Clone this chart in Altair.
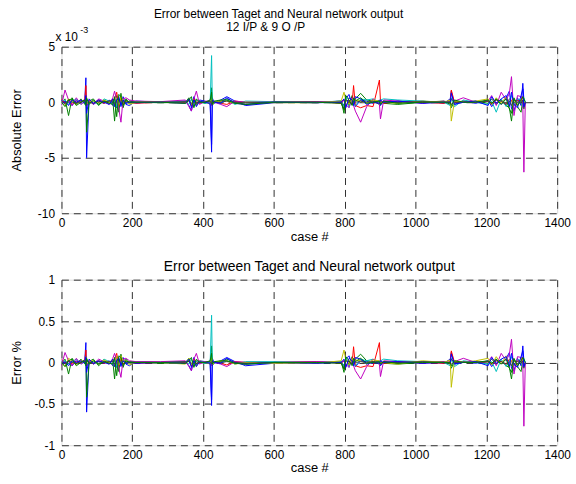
import altair as alt
import pandas as pd

FONT = "Liberation Sans"

# case numbers (x) shared by all series
CASES = [
    0, 10, 20, 30, 42, 55,
    66, 69, 71, 78,
    90, 105, 120, 135,
    145, 150, 156, 162, 168, 174,
    182, 192, 210, 280,
    350, 360, 367, 374, 381, 390,
    405, 420, 424, 426, 432,
    450, 467, 490, 520,
    600, 720, 790, 798,
    803, 812, 821, 825, 830,
    845, 862, 880, 898, 901,
    910, 950, 1020, 1080,
    1098, 1101, 1110, 1135,
    1170, 1205, 1215, 1228,
    1242, 1256, 1265, 1271, 1278,
    1288, 1298, 1303, 1306, 1310,
]

# ---- Absolute error (units of 1e-3) ----
ABS_1 = [0.2, -0.2, 0.1, -0.3, 0.2, -0.1,
         0.3, 2.2, -5.0, 0.2,
         -0.2, 0.1, -0.1, 0.2,
         -0.3, 0.4, -0.5, 0.3, -0.4, 0.5,
         -0.2, -0.3, 0.1, 0.0,
         0.1, -0.3, -0.8, 0.5, -0.3, 0.2,
         0.1, -0.2, -4.5, 0.4, -0.1,
         0.2, 0.5, 0.1, -0.3,
         -0.05, 0.0, 0.1, -0.3,
         0.3, 0.7, -0.2, 0.3, -0.4,
         0.2, 0.1, -0.1, 0.2, -0.3,
         0.1, 0.0, 0.1, -0.1,
         0.3, 1.0, -0.2, 0.1,
         -0.1, 0.2, -0.4, 0.3,
         -0.2, 0.4, 1.0, -0.6, -0.8,
         0.4, -0.3, 1.7, 0.2, 0.1]
ABS_2 = [-0.1, 0.3, -1.2, 0.4, -0.2, 0.3,
         -0.2, 0.5, -2.7, 0.1,
         0.3, -0.3, 0.2, -0.1,
         0.2, -1.7, 0.6, -0.9, 0.8, -0.5,
         0.3, -0.1, 0.0, -0.05,
         0.0, 0.4, -0.3, 0.2, -0.2, 0.1,
         -0.1, 0.1, 1.3, -0.3, 0.0,
         0.1, 0.3, 0.0, -0.2,
         0.0, -0.05, 0.1, -1.0,
         0.4, -0.3, 0.6, -0.2, 0.3,
         0.8, 0.2, 0.1, -0.2, 0.1,
         -0.1, -0.2, 0.0, 0.1,
         -0.2, -0.5, 0.1, 0.0,
         0.1, -0.1, 0.3, -0.2,
         0.2, -0.3, -0.5, -1.7, 0.3,
         -0.4, -0.9, 0.2, -0.3, 0.0]
ABS_3 = [0.3, -0.1, 0.2, -0.2, 0.1, 0.0,
         0.2, 1.5, -0.3, 0.1,
         -0.1, 0.2, -0.1, 0.1,
         0.2, 0.3, 0.9, -0.3, 0.4, -0.2,
         0.1, 0.0, -0.1, 0.0,
         0.0, 0.2, -0.3, 0.3, 0.1, -0.1,
         0.0, 0.1, 0.2, -0.2, 0.1,
         -0.1, -0.2, 0.1, 0.0,
         0.0, 0.05, -0.1, 0.2,
         -0.4, 0.2, -0.1, 1.5, -0.3,
         -0.5, -0.3, -0.4, 2.0, 0.1,
         -0.1, 0.1, 0.0, -0.1,
         0.1, 1.1, 0.0, 0.1,
         0.0, 0.1, -0.2, 0.2,
         0.1, -0.2, 0.3, 0.2, -0.3,
         0.2, 0.1, 0.5, -0.2, 0.0]
ABS_4 = [0.1, 0.2, -0.2, 0.1, 0.3, -0.2,
         0.1, -0.3, 0.3, -0.1,
         0.1, -0.2, 0.3, 0.1,
         -0.2, 0.2, -0.4, 0.1, -0.3, 0.2,
         -0.1, 0.1, 0.05, 0.0,
         0.1, -0.2, 0.3, -0.4, 0.2, 0.0,
         -0.1, 0.0, 4.2, 0.0, 0.1,
         -0.1, 0.2, -0.2, 0.1,
         0.05, 0.0, 0.1, -0.4,
         0.5, -0.5, 0.3, -0.2, -0.3,
         0.3, 0.2, 0.3, 0.0, 0.2,
         0.3, 0.2, 0.1, 0.0,
         -0.3, 0.4, -0.4, 0.2,
         0.0, -0.2, 0.1, -0.9,
         0.3, -0.4, 0.2, 0.6, -0.3,
         0.3, 0.1, -0.5, 0.4, 0.0]
ABS_5 = [-0.3, 1.1, 0.2, -0.3, 0.4, -0.2,
         0.1, 0.3, -0.4, 0.2,
         -0.2, 0.3, 0.1, -0.2,
         0.4, 1.0, 0.2, -0.6, -1.8, 0.3,
         0.4, 0.2, 0.1, 0.05,
         0.2, -0.4, -0.8, 0.3, 1.0, -0.2,
         0.1, 0.1, -0.3, 0.2, 0.0,
         -0.2, -0.4, 0.1, 0.0,
         0.0, 0.05, 0.0, 0.2,
         -0.2, -0.5, 0.4, -0.3, -0.8,
         -1.8, -0.4, 0.3, -0.2, -1.5,
         0.2, 0.1, -0.1, 0.1,
         0.0, -0.2, 0.1, 0.4,
         0.0, 0.1, 0.6, -0.3,
         0.9, 0.2, 0.8, 2.3, -1.2,
         0.6, 0.5, -0.2, -6.3, 0.0]
ABS_6 = [0.0, -0.3, 0.3, 0.1, -0.2, 0.2,
         0.0, 0.4, -0.2, 0.1,
         0.1, -0.1, 0.2, 0.0,
         0.2, -0.3, 0.4, -0.2, 0.5, 0.1,
         0.1, -0.2, 0.0, 0.0,
         -0.1, 0.3, -0.2, 0.1, -0.3, 0.1,
         0.0, -0.1, 0.3, -0.2, 0.0,
         0.1, 0.1, -0.1, 0.0,
         -0.05, -0.05, 0.1, 0.9,
         0.2, -0.2, 0.3, 0.1, 0.2,
         0.1, -0.1, 0.2, 0.1, 0.0,
         0.0, -0.1, 0.1, 0.0,
         0.2, -1.7, 0.1, 0.0,
         0.1, 0.3, -0.2, 0.4,
         -0.1, 0.5, -0.3, 0.1, 0.2,
         -0.2, 0.3, 0.1, -0.1, 0.0]
ABS_7 = [0.1, -0.1, 0.2, 0.0, -0.1, 0.1,
         0.1, -0.2, 0.2, 0.0,
         -0.1, 0.1, 0.0, 0.1,
         0.1, -0.2, 0.2, 0.3, -0.2, 0.1,
         0.0, 0.1, 0.0, 0.0,
         0.05, 0.1, -0.1, 0.2, -0.1, 0.0,
         0.0, 0.1, -0.2, 0.1, 0.0,
         0.0, 0.1, 0.0, -0.05,
         0.0, 0.0, 0.0, -0.6,
         0.2, 0.1, -0.2, 0.1, 0.0,
         0.1, 0.0, 0.1, 0.0, -0.1,
         0.0, 0.0, 0.05, 0.0,
         -0.1, 0.3, 0.0, 0.0,
         0.0, 0.1, -0.1, 0.2,
         0.1, -0.2, 0.1, -0.3, 0.2,
         0.1, -0.1, 0.2, -0.6, 0.0]
ABS_8 = [-0.2, 0.1, -0.3, 0.2, 0.0, 0.2,
         -0.1, 0.6, -1.0, 0.3,
         -0.1, 0.2, 0.0, -0.2,
         0.3, -0.4, 0.2, 0.5, -0.3, 0.2,
         -0.1, 0.0, -0.05, 0.0,
         -0.1, 0.3, -0.5, 0.2, -0.4, 0.1,
         0.0, -0.1, -3.8, 0.2, 0.0,
         -0.1, 0.4, -0.1, -0.2,
         0.0, -0.05, 0.0, 0.3,
         -0.5, 0.4, 0.2, -0.3, 0.5,
         0.3, -0.2, 0.0, -0.1, 0.2,
         0.0, 0.1, -0.1, 0.0,
         0.0, 0.8, -0.2, 0.0,
         0.1, -0.3, 0.5, -0.1,
         0.3, 0.6, -0.4, 0.9, -0.2,
         -0.5, 0.6, 1.2, -0.4, 0.0]
ABS_9 = [0.0, -0.4, 0.2, 0.3, -0.3, 0.0,
         0.2, -0.3, 0.4, -0.2,
         0.2, -0.2, 0.1, -0.1,
         -0.2, 0.5, -1.3, 0.7, 0.5, -0.3,
         0.2, 0.0, 0.0, 0.0,
         -0.1, 0.2, 0.5, -0.5, 0.3, 0.0,
         0.0, 0.2, 0.9, -0.2, 0.1,
         0.2, 0.2, -0.1, -0.2,
         0.0, 0.0, -0.1, -0.7,
         0.6, 0.2, -0.3, 0.4, 0.1,
         0.4, -0.1, 0.0, 0.1, -0.2,
         0.1, -0.1, 0.0, 0.0,
         0.0, -0.3, 0.2, 0.0,
         0.0, 0.2, -0.1, 0.3,
         -0.2, 0.3, -0.6, -1.0, 0.4,
         -0.3, 0.2, 0.5, 0.3, 0.0]

# ---- Error % ----
PCT_1 = [0.02, -0.02, 0.01, -0.04, 0.02, -0.01,
         0.04, 0.24, -0.6, 0.02,
         -0.02, 0.01, -0.01, 0.02,
         -0.04, 0.05, -0.06, 0.04, -0.05, 0.06,
         -0.02, -0.04, 0.01, 0.0,
         0.01, -0.04, -0.1, 0.06, -0.04, 0.02,
         0.01, -0.02, -0.52, 0.05, -0.01,
         0.02, 0.06, 0.01, -0.04,
         -0.01, 0.0, 0.01, -0.04,
         0.04, 0.08, -0.02, 0.04, -0.05,
         0.02, 0.01, -0.01, 0.02, -0.04,
         0.01, 0.0, 0.01, -0.01,
         0.04, 0.12, -0.02, 0.01,
         -0.01, 0.02, -0.05, 0.04,
         -0.02, 0.05, 0.12, -0.07, -0.1,
         0.05, -0.04, 0.2, 0.02, 0.01]
PCT_2 = [-0.01, 0.04, -0.14, 0.05, -0.02, 0.04,
         -0.02, 0.06, -0.42, 0.01,
         0.04, -0.04, 0.02, -0.01,
         0.02, -0.2, 0.07, -0.11, 0.1, -0.06,
         0.04, -0.01, 0.0, -0.01,
         0.0, 0.05, -0.04, 0.02, -0.02, 0.01,
         -0.01, 0.01, 0.2, -0.04, 0.0,
         0.01, 0.04, 0.0, -0.02,
         0.0, -0.01, 0.01, -0.12,
         0.05, -0.04, 0.07, -0.02, 0.04,
         0.1, 0.02, 0.01, -0.02, 0.01,
         -0.01, -0.02, 0.0, 0.01,
         -0.02, -0.07, 0.01, 0.0,
         0.01, -0.01, 0.04, -0.02,
         0.02, -0.04, -0.06, -0.2, 0.04,
         -0.05, -0.11, 0.02, -0.04, 0.0]
PCT_3 = [0.04, -0.01, 0.02, -0.02, 0.01, 0.0,
         0.02, 0.15, -0.04, 0.01,
         -0.01, 0.02, -0.01, 0.01,
         0.02, 0.04, 0.11, -0.04, 0.05, -0.02,
         0.01, 0.0, -0.01, 0.0,
         0.0, 0.02, -0.04, 0.04, 0.01, -0.01,
         0.0, 0.01, 0.02, -0.02, 0.01,
         -0.01, -0.03, 0.01, 0.0,
         0.0, 0.01, -0.01, 0.02,
         -0.05, 0.02, -0.01, 0.19, -0.04,
         -0.06, -0.04, -0.05, 0.24, 0.01,
         -0.01, 0.01, 0.0, -0.01,
         0.01, 0.14, 0.0, 0.01,
         0.0, 0.01, -0.02, 0.02,
         0.01, -0.02, 0.04, 0.02, -0.04,
         0.02, 0.01, 0.06, -0.02, 0.0]
PCT_4 = [0.01, 0.02, -0.02, 0.01, 0.04, -0.02,
         0.01, -0.04, 0.04, -0.01,
         0.01, -0.02, 0.04, 0.01,
         -0.02, 0.02, -0.05, 0.01, -0.04, 0.02,
         -0.01, 0.01, 0.01, 0.0,
         0.01, -0.02, 0.04, -0.05, 0.02, 0.0,
         -0.01, 0.0, 0.57, 0.0, 0.01,
         -0.01, 0.02, -0.02, 0.01,
         0.01, 0.0, 0.01, -0.05,
         0.06, -0.06, 0.04, -0.02, -0.04,
         0.04, 0.02, 0.04, 0.0, 0.02,
         0.04, 0.02, 0.01, 0.0,
         -0.04, 0.05, -0.05, 0.02,
         0.0, -0.02, 0.01, -0.11,
         0.04, -0.05, 0.02, 0.07, -0.04,
         0.04, 0.01, -0.06, 0.05, 0.0]
PCT_5 = [-0.04, 0.12, 0.02, -0.04, 0.05, -0.02,
         0.01, 0.04, -0.05, 0.02,
         -0.02, 0.04, 0.01, -0.02,
         0.05, 0.11, 0.02, -0.07, -0.18, 0.04,
         0.05, 0.02, 0.01, 0.01,
         0.02, -0.05, -0.1, 0.04, 0.11, -0.02,
         0.01, 0.01, -0.04, 0.02, 0.0,
         -0.02, -0.05, 0.01, 0.0,
         0.0, 0.01, 0.0, 0.02,
         -0.02, -0.06, 0.05, -0.04, -0.1,
         -0.2, -0.05, 0.04, -0.02, -0.17,
         0.02, 0.01, -0.01, 0.01,
         0.0, -0.02, 0.01, 0.05,
         0.0, 0.01, 0.07, -0.04,
         0.11, 0.02, 0.1, 0.28, -0.14,
         0.07, 0.06, -0.02, -0.77, 0.0]
PCT_6 = [0.0, -0.05, 0.05, 0.02, -0.03, 0.03,
         0.0, 0.07, -0.03, 0.02,
         0.02, -0.02, 0.03, 0.0,
         0.03, -0.05, 0.07, -0.03, 0.08, 0.02,
         0.02, -0.03, 0.0, 0.0,
         -0.02, 0.05, -0.03, 0.02, -0.05, 0.02,
         0.0, -0.02, 0.05, -0.03, 0.0,
         0.02, 0.02, -0.02, 0.0,
         -0.01, -0.01, 0.02, 0.15,
         0.03, -0.03, 0.05, 0.02, 0.03,
         0.02, -0.02, 0.03, 0.02, 0.0,
         0.0, -0.02, 0.02, 0.0,
         0.03, -0.3, 0.02, 0.0,
         0.02, 0.05, -0.03, 0.07,
         -0.02, 0.08, -0.05, 0.02, 0.03,
         -0.03, 0.05, 0.02, -0.02, 0.0]
PCT_7 = [0.01, -0.01, 0.02, 0.0, -0.01, 0.01,
         0.01, -0.02, 0.02, 0.0,
         -0.01, 0.01, 0.0, 0.01,
         0.01, -0.02, 0.02, 0.04, -0.02, 0.01,
         0.0, 0.01, 0.0, 0.0,
         0.01, 0.01, -0.01, 0.02, -0.01, 0.0,
         0.0, 0.01, -0.02, 0.01, 0.0,
         0.0, 0.01, 0.0, -0.01,
         0.0, 0.0, 0.0, -0.07,
         0.02, 0.01, -0.02, 0.01, 0.0,
         0.01, 0.0, 0.01, 0.0, -0.01,
         0.0, 0.0, 0.01, 0.0,
         -0.01, 0.04, 0.0, 0.0,
         0.0, 0.01, -0.01, 0.02,
         0.01, -0.02, 0.01, -0.04, 0.02,
         0.01, -0.01, 0.02, -0.07, 0.0]
PCT_8 = [-0.02, 0.01, -0.04, 0.02, 0.0, 0.02,
         -0.01, 0.07, -0.12, 0.04,
         -0.01, 0.02, 0.0, -0.02,
         0.04, -0.05, 0.02, 0.06, -0.04, 0.02,
         -0.01, 0.0, -0.01, 0.0,
         -0.01, 0.04, -0.06, 0.02, -0.05, 0.01,
         0.0, -0.01, -0.45, 0.02, 0.0,
         -0.01, 0.05, -0.01, -0.02,
         0.0, -0.01, 0.0, 0.04,
         -0.06, 0.05, 0.02, -0.04, 0.06,
         0.04, -0.02, 0.0, -0.01, 0.02,
         0.0, 0.01, -0.01, 0.0,
         0.0, 0.1, -0.02, 0.0,
         0.01, -0.04, 0.06, -0.01,
         0.04, 0.07, -0.05, 0.11, -0.02,
         -0.06, 0.07, 0.14, -0.05, 0.0]
PCT_9 = [0.0, -0.05, 0.02, 0.04, -0.04, 0.0,
         0.02, -0.04, 0.05, -0.02,
         0.02, -0.02, 0.01, -0.01,
         -0.02, 0.06, -0.16, 0.08, 0.06, -0.04,
         0.02, 0.0, 0.0, 0.0,
         -0.01, 0.02, 0.06, -0.06, 0.04, 0.0,
         0.0, 0.02, 0.11, -0.02, 0.01,
         0.02, 0.02, -0.01, -0.02,
         0.0, 0.0, -0.01, -0.08,
         0.07, 0.02, -0.04, 0.05, 0.01,
         0.05, -0.01, 0.0, 0.01, -0.02,
         0.01, -0.01, 0.0, 0.0,
         0.0, -0.04, 0.02, 0.0,
         0.0, 0.02, -0.01, 0.04,
         -0.02, 0.04, -0.07, -0.12, 0.05,
         -0.04, 0.02, 0.06, 0.04, 0.0]

SERIES = ["s1", "s2", "s3", "s4", "s5", "s6", "s7", "s8", "s9"]
COLORS = ["#0000ff", "#008000", "#ff0000", "#00bfbf", "#bf00bf",
          "#bfbf00", "#404040", "#0000ff", "#008000"]
X_TICKS = [0, 200, 400, 600, 800, 1000, 1200, 1400]
ABS_TICKS = [-10, -5, 0, 5]
PCT_TICKS = [-1, -0.5, 0, 0.5, 1]

TITLE_1 = "Error between Taget and Neural network output"
TITLE_2 = "12 I/P & 9 O /P"


def to_long(lists):
    rows = []
    for name, vals in zip(SERIES, lists):
        for c, v in zip(CASES, vals):
            rows.append({"case": c, "v": v, "s": name})
    return pd.DataFrame(rows)


abs_df = to_long([ABS_1, ABS_2, ABS_3, ABS_4, ABS_5, ABS_6, ABS_7, ABS_8, ABS_9])
pct_df = to_long([PCT_1, PCT_2, PCT_3, PCT_4, PCT_5, PCT_6, PCT_7, PCT_8, PCT_9])

W = 500
H = 168

common_axis = dict(
    grid=True, gridDash=[7, 5], gridColor="#303030", gridWidth=1, gridOpacity=1,
    domain=False, ticks=False, labelFont=FONT, labelFontSize=12, labelColor="black",
    titleFont=FONT, titleFontSize=13, titleFontWeight="normal", titleColor="black",
    labelFlush=False, labelOverlap=False,
)


def panel(df, ydomain, yticks, ytitle):
    x = alt.X("case:Q",
              scale=alt.Scale(domain=[0, 1400], nice=False, zero=False),
              axis=alt.Axis(values=X_TICKS, format="d", title="case #",
                            labelPadding=4, titlePadding=2, **common_axis))
    y = alt.Y("v:Q",
              scale=alt.Scale(domain=ydomain, nice=False, zero=False),
              axis=alt.Axis(values=yticks, labelExpr="'' + datum.value", title=ytitle,
                            labelPadding=7, titleX=-38, **common_axis))
    return alt.Chart(df).mark_line(strokeWidth=1, clip=True).encode(
        x=x, y=y,
        color=alt.Color("s:N", scale=alt.Scale(domain=SERIES, range=COLORS), legend=None),
        detail="s:N",
    ).properties(width=W, height=H)


top_lines = panel(abs_df, [-10, 5], ABS_TICKS, "Absolute Error")
ann = pd.DataFrame({"t1": [TITLE_1], "t2": [TITLE_2], "m": ["x 10"], "e": ["-3"]})
base_ann = alt.Chart(ann)
t1 = base_ann.mark_text(font=FONT, fontSize=12, color="black", align="center", baseline="middle").encode(
    text="t1:N", x=alt.value(219), y=alt.value(-32.5))
t2 = base_ann.mark_text(font=FONT, fontSize=12, color="black", align="center", baseline="middle").encode(
    text="t2:N", x=alt.value(206), y=alt.value(-19.8))
mult = base_ann.mark_text(font=FONT, fontSize=12, color="black", align="left", baseline="middle").encode(
    text="m:N", x=alt.value(-6), y=alt.value(-10))
expo = base_ann.mark_text(font=FONT, fontSize=9, color="black", align="left", baseline="middle").encode(
    text="e:N", x=alt.value(19), y=alt.value(-17))

top = alt.layer(top_lines, t1, t2, mult, expo)

bottom = panel(pct_df, [-1, 1], PCT_TICKS, "Error %").properties(
    height=167,
    title=alt.TitleParams(TITLE_1, font=FONT, fontSize=14, fontWeight="normal",
                          color="black", anchor="middle", offset=0),
)

chart = alt.vconcat(top, bottom, spacing=15).properties(
    padding={"left": 10, "top": 6, "right": 5, "bottom": 5}
).configure_view(stroke="black", strokeWidth=1).configure(background="white")

chart.save("out.html", embed_options={"renderer": "svg", "actions": False})
